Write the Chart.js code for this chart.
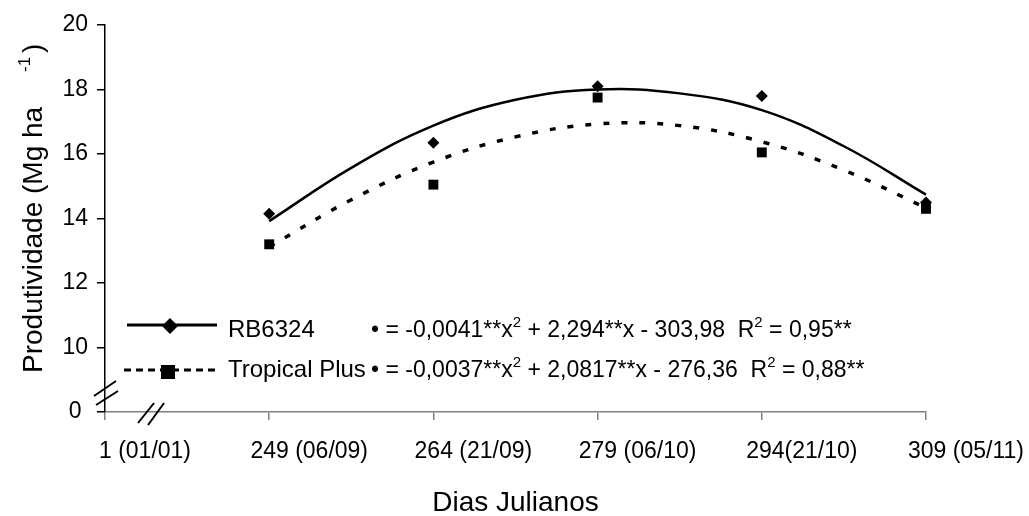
<!DOCTYPE html>
<html>
<head>
<meta charset="utf-8">
<script src="https://cdn.jsdelivr.net/npm/chart.js@4"></script>
<style>
  html, body { margin: 0; padding: 0; background: #fff; }
  #wrap { width: 1029px; height: 516px; }
</style>
</head>
<body>
<div id="wrap"><canvas id="chart" width="1029" height="516"></canvas></div>
<script>
// valores
const categories = ['1 (01/01)', '249 (06/09)', '264 (21/09)', '279 (06/10)', '294(21/10)', '309 (05/11)'];
const rb6324 = [null, 14.15, 16.35, 18.1, 17.8, 14.5];
const tropicalPlus = [null, 13.2, 15.05, 17.75, 16.05, 14.3];
// curvas de tendência (posição = índice da categoria)
const trendPos = [1, 1.5, 2, 2.5, 3, 3.5, 4, 4.5, 5];
const rbTrend = [13.92, 15.57, 16.88, 17.68, 18.0, 17.88, 17.36, 16.24, 14.74];
const tropTrend = [13.12, 14.58, 15.75, 16.53, 16.93, 16.88, 16.38, 15.5, 14.33];
const yMin = 8, yMax = 20, yStep = 2;

const FONT = '"Liberation Sans", Arial, sans-serif';

const toPoints = arr => arr.map((y, i) => ({ x: i, y: y })).filter(p => p.y !== null);
const toTrend = arr => arr.map((y, i) => ({ x: trendPos[i], y: y }));

function drawRich(ctx, parts, x, y, size, supSize) {
    parts.forEach(([txt, sup]) => {
        ctx.font = (sup ? supSize : size) + 'px ' + FONT;
        ctx.fillText(txt, x, sup ? y - 10 : y);
        x += ctx.measureText(txt).width;
    });
}

const decor = {
    id: 'decor',
    afterDraw(chart) {
        const ctx = chart.ctx;
        const ca = chart.chartArea;
        ctx.save();
        ctx.fillStyle = '#000';
        ctx.strokeStyle = '#000';

        // quebras dos eixos
        ctx.lineWidth = 2;
        const xb = chart.scales.x.getPixelForValue(0.25);
        [[ca.left - 11, ca.bottom - 16, ca.left + 11, ca.bottom - 31],
         [ca.left - 9, ca.bottom - 7, ca.left + 13, ca.bottom - 21],
         [xb - 8, ca.bottom + 11, xb + 8, ca.bottom - 9],
         [xb + 2, ca.bottom + 13, xb + 18, ca.bottom - 9]].forEach(l => {
            ctx.beginPath();
            ctx.moveTo(l[0], l[1]);
            ctx.lineTo(l[2], l[3]);
            ctx.stroke();
        });

        // legenda
        ctx.lineWidth = 3;
        ctx.beginPath();
        ctx.moveTo(127, 325); ctx.lineTo(217, 325);
        ctx.stroke();
        ctx.beginPath();
        ctx.moveTo(170, 318); ctx.lineTo(178, 326); ctx.lineTo(170, 334); ctx.lineTo(162, 326);
        ctx.closePath(); ctx.fill();

        ctx.setLineDash([7, 5]);
        ctx.beginPath();
        ctx.moveTo(124, 370); ctx.lineTo(220, 370);
        ctx.stroke();
        ctx.setLineDash([]);
        ctx.fillRect(161, 365, 14, 14);

        ctx.textBaseline = 'alphabetic';
        ctx.textAlign = 'left';
        ctx.font = '24px ' + FONT;
        ctx.fillText('RB6324', 228, 337);
        ctx.fillText('Tropical Plus', 228, 377);
        drawRich(ctx, [['\u2022 = -0,0041**x', 0], ['2', 1], [' + 2,294**x - 303,98  R', 0], ['2', 1], [' = 0,95**', 0]], 371, 337, 23, 15);
        drawRich(ctx, [['\u2022 = -0,0037**x', 0], ['2', 1], [' + 2,0817**x - 276,36  R', 0], ['2', 1], [' = 0,88**', 0]], 371, 377, 23, 15);

        // título do eixo x
        ctx.font = '28px ' + FONT;
        ctx.textAlign = 'center';
        ctx.fillText('Dias Julianos', (ca.left + ca.right) / 2, 511);

        // título do eixo y
        ctx.translate(42, 373);
        ctx.rotate(-Math.PI / 2);
        ctx.textAlign = 'left';
        ctx.fillText('Produtividade (Mg ha', 0, 0);
        ctx.font = '17px ' + FONT;
        ctx.fillText('-1', 301, -12);
        ctx.font = '28px ' + FONT;
        ctx.fillText(')', 320, 0);
        ctx.restore();
    }
};

new Chart(document.getElementById('chart'), {
    type: 'scatter',
    data: {
        datasets: [
            {
                label: 'RB6324', data: toPoints(rb6324), order: 0, clip: false,
                pointStyle: 'rectRot', pointRadius: 6, pointBackgroundColor: '#000',
                pointBorderColor: '#000', pointBorderWidth: 0
            },
            {
                label: 'Tropical Plus', data: toPoints(tropicalPlus), order: 0, clip: false,
                pointStyle: 'rect', pointRadius: 7, pointBackgroundColor: '#000',
                pointBorderColor: '#000', pointBorderWidth: 0
            },
            {
                label: 'RB6324 tendência', data: toTrend(rbTrend), order: 1, showLine: true, clip: false,
                borderColor: '#000', borderWidth: 2.5, tension: 0.4, pointRadius: 0
            },
            {
                label: 'Tropical Plus tendência', data: toTrend(tropTrend), order: 1, showLine: true, clip: false,
                borderColor: '#000', borderWidth: 3.5, borderDash: [6, 12], tension: 0.4, pointRadius: 0
            }
        ]
    },
    options: {
        responsive: false,
        animation: false,
        devicePixelRatio: 1,
        layout: { padding: { top: 25, right: 103, left: 0, bottom: 0 } },
        plugins: { legend: { display: false }, tooltip: { enabled: false } },
        scales: {
            x: {
                type: 'linear',
                min: 0, max: categories.length - 1,
                afterFit: s => { s.height = 104; },
                afterBuildTicks: s => { s.ticks = categories.map((c, i) => ({ value: i })); },
                grid: { drawOnChartArea: false, tickLength: 8, color: '#808080', lineWidth: 1.5 },
                border: { color: '#808080', width: 1.5 },
                ticks: {
                    color: '#000', font: { size: 23, family: FONT },
                    padding: 18, labelOffset: 40, maxRotation: 0, autoSkip: false,
                    callback: v => categories[v]
                }
            },
            y: {
                min: yMin, max: yMax,
                afterFit: s => { s.width = 105; },
                grid: { drawOnChartArea: false, tickLength: 8, color: '#000', lineWidth: 1.5 },
                border: { color: '#000', width: 1.5 },
                ticks: {
                    stepSize: yStep, color: '#000', font: { size: 23, family: FONT }, padding: 9,
                    callback: v => v === yMin ? '0 ' : v
                }
            }
        }
    },
    plugins: [decor]
});
</script>
</body>
</html>
